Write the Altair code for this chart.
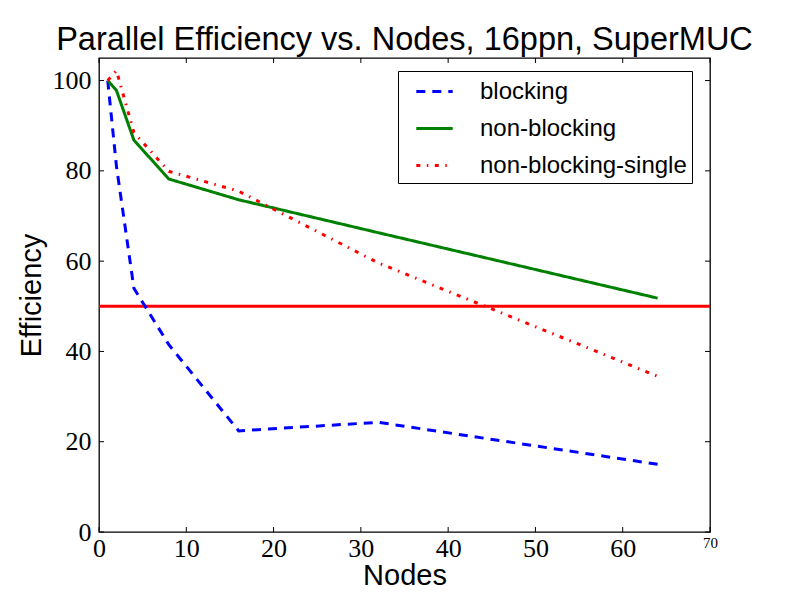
import altair as alt
import pandas as pd

# ---- data ----
nodes = [1, 2, 4, 8, 16, 32, 64]
blocking = [100, 81, 54, 41.5, 22.4, 24.3, 15.0]
non_blocking = [100, 97.8, 86.8, 78.2, 73.6, 66.3, 51.8]
non_blocking_single = [100, 102.2, 88.5, 79.9, 75.5, 59.6, 34.5]
series_names = ["blocking", "non-blocking", "non-blocking-single"]
threshold = [50]
x_ticks = [0, 10, 20, 30, 40, 50, 60, 70]
y_ticks = [0, 20, 40, 60, 80, 100]

rows = []
for name, vals in zip(series_names, [blocking, non_blocking, non_blocking_single]):
    for n, v in zip(nodes, vals):
        rows.append({"series": name, "nodes": n, "eff": v})
df = pd.DataFrame(rows)
thr_df = pd.DataFrame({"v": threshold})
xt_df = pd.DataFrame({"t": x_ticks})
yt_df = pd.DataFrame({"t": y_ticks})

W, H = 611, 474
TICK = 5

xscale = alt.Scale(domain=[0, 70], nice=False, zero=False)
yscale = alt.Scale(domain=[0, 105], nice=False, zero=False)

x_axis = alt.Axis(values=x_ticks, grid=False, domain=False, ticks=False,
                  labelFont="Liberation Serif",
                  labelFontSize={"expr": "datum.value == 70 ? 15 : 26"},
                  labelColor="black", labelPadding=3,
                  titleFont="Liberation Sans", titleFontSize=29,
                  titleFontWeight="normal", titleColor="black",
                  titleY=52, titleBaseline="alphabetic",
                  labelFlush=False, labelOverlap=False)
y_axis = alt.Axis(values=y_ticks, grid=False, domain=False, ticks=False,
                  labelFont="Liberation Serif", labelFontSize=26,
                  labelColor="black", labelPadding=8,
                  titleFont="Liberation Sans", titleFontSize=29,
                  titleFontWeight="normal", titleColor="black",
                  titlePadding=6, labelFlush=False, labelOverlap=False)

legend = alt.Legend(title=None, orient="none", legendX=299, legendY=13,
                    strokeColor="black", fillColor="white",
                    padding=5, symbolType="M-1.3,0H1.3",
                    symbolSize=784, symbolStrokeWidth=3, symbolOffset=16,
                    labelFont="Liberation Sans", labelFontSize=24,
                    labelColor="black", labelOffset=30, labelLimit=400,
                    rowPadding=9, offset=0)

lines = alt.Chart(df).mark_line(strokeWidth=3, clip=True).encode(
    x=alt.X("nodes:Q", scale=xscale, title="Nodes", axis=x_axis),
    y=alt.Y("eff:Q", scale=yscale, title="Efficiency", axis=y_axis),
    color=alt.Color("series:N",
                    scale=alt.Scale(domain=series_names,
                                    range=["#0000ff", "#008000", "#ff0000"]),
                    legend=legend),
    strokeDash=alt.StrokeDash("series:N",
                              scale=alt.Scale(domain=series_names,
                                              range=[[9, 7], [1, 0], [4, 6.5, 1.5, 6.5]]),
                              legend=legend),
    order="nodes:Q",
)

rule50 = alt.Chart(thr_df).mark_rule(color="#ff0000", strokeWidth=3).encode(
    y=alt.Y("v:Q", scale=yscale, title="Efficiency", axis=y_axis)
)

tick_bottom = alt.Chart(xt_df).mark_rule(color="black", strokeWidth=1).encode(
    x=alt.X("t:Q", scale=xscale, title="Nodes", axis=x_axis),
    y=alt.value(H), y2=alt.value(H - TICK)
)
tick_top = alt.Chart(xt_df).mark_rule(color="black", strokeWidth=1).encode(
    x=alt.X("t:Q", scale=xscale, title="Nodes", axis=x_axis),
    y=alt.value(0), y2=alt.value(TICK)
)
tick_left = alt.Chart(yt_df).mark_rule(color="black", strokeWidth=1).encode(
    y=alt.Y("t:Q", scale=yscale, title="Efficiency", axis=y_axis),
    x=alt.value(0), x2=alt.value(TICK)
)
tick_right = alt.Chart(yt_df).mark_rule(color="black", strokeWidth=1).encode(
    y=alt.Y("t:Q", scale=yscale, title="Efficiency", axis=y_axis),
    x=alt.value(W), x2=alt.value(W - TICK)
)

chart = alt.layer(rule50, lines, tick_bottom, tick_top, tick_left, tick_right).properties(
    width=W, height=H,
    title=alt.TitleParams("Parallel Efficiency vs. Nodes, 16ppn, SuperMUC",
                          font="Liberation Sans", fontSize=32.5, fontWeight="normal",
                          color="black", anchor="middle", baseline="bottom",
                          offset=0, dy=32),
    autosize=alt.AutoSizeParams(type="none"),
    padding={"left": 91, "top": 50, "right": 70, "bottom": 60},
    background="white",
).configure_view(stroke="black", strokeWidth=1.3)

chart.save("out.html", embed_options={"renderer": "svg", "actions": False})
